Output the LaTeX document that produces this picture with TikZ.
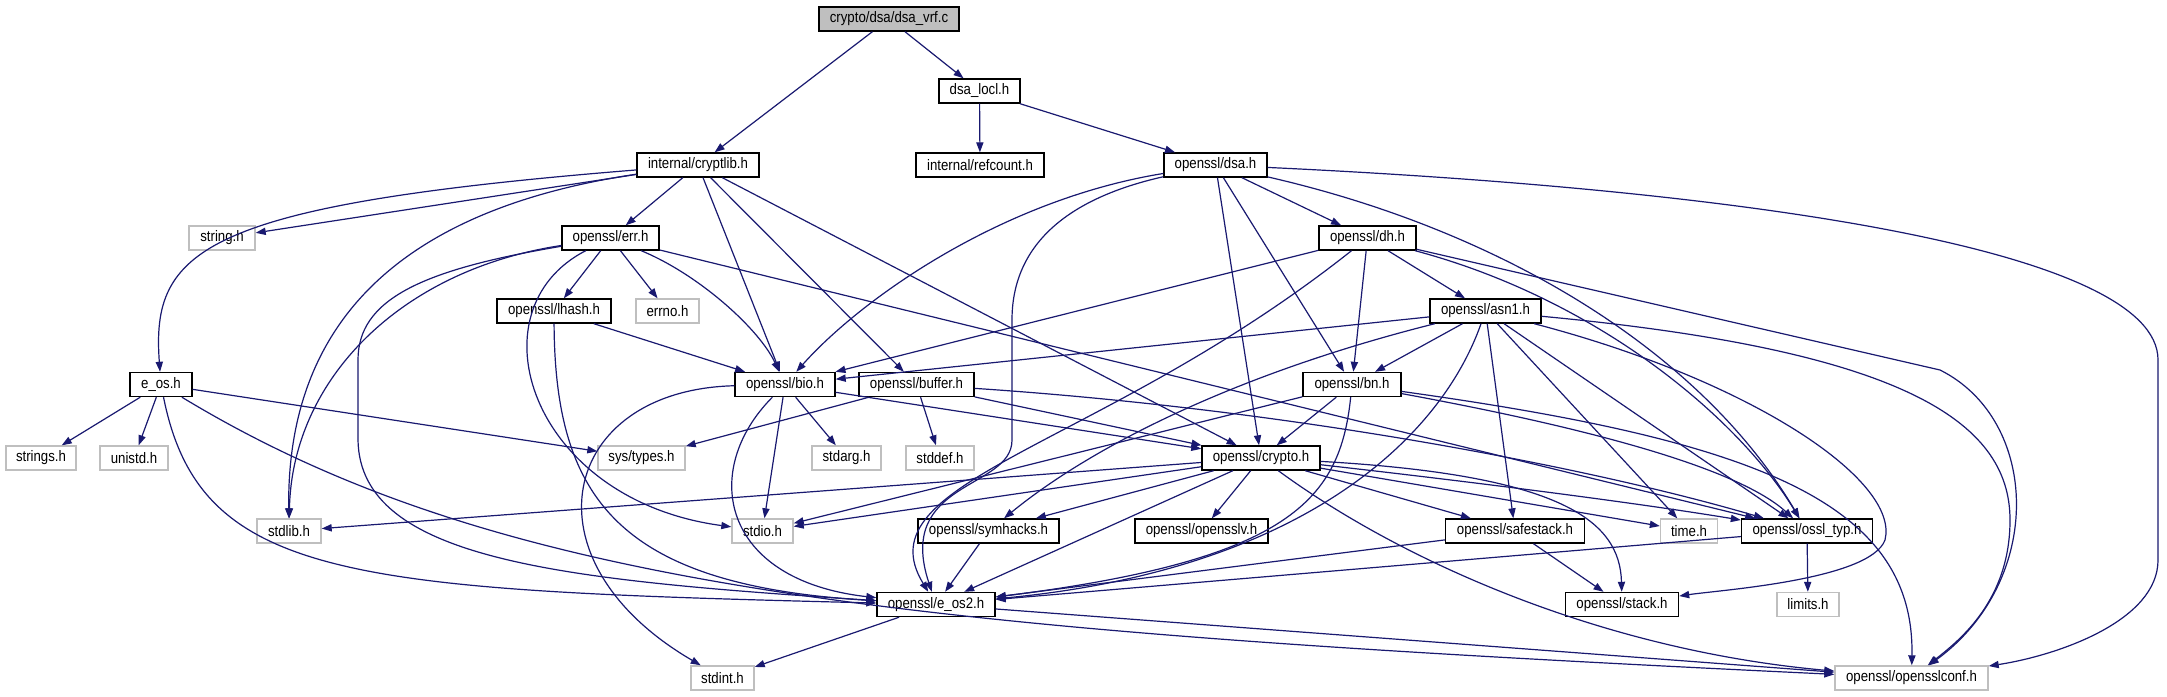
\documentclass[tikz,border=0pt]{standalone}
\usepackage{fontspec}
\setmainfont{Liberation Sans}[FakeStretch=0.87]
\usetikzlibrary{arrows.meta}
\definecolor{edgec}{RGB}{25,25,112}
\definecolor{grayb}{RGB}{191,191,191}
\newcommand\fsz{\fontsize{7.6pt}{9pt}\selectfont}
\tikzset{
 nb/.style={draw=black, line width=0.7pt, fill=white, minimum height=12pt, inner sep=0pt, font=\fsz},
 ng/.style={nb, draw=grayb},
 nroot/.style={nb, fill=grayb},
 e/.style={draw=edgec, line width=0.6pt, -{Triangle[length=5pt,width=3.6pt]}}
}
\begin{document}
\begin{tikzpicture}[x=0.5pt,y=-0.5pt]
\useasboundingbox[fill=white] (0,0) rectangle (2167,696);
% row 0
\node[nroot, minimum width=70pt] (vrf) at (889,19) {crypto/dsa/dsa\_vrf.c};
% row 1
\node[nb, minimum width=40.5pt] (locl) at (979.5,91) {dsa\_locl.h};
% row 2
\node[nb, minimum width=61pt] (cryptlib) at (698,165) {internal/cryptlib.h};
\node[nb, minimum width=64pt] (refcount) at (980,165) {internal/refcount.h};
\node[nb, minimum width=51.5pt] (dsa) at (1215.5,165) {openssl/dsa.h};
% row 3
\node[ng, minimum width=33pt] (string) at (222,238) {string.h};
\node[nb, minimum width=48.5pt] (err) at (610.5,238) {openssl/err.h};
\node[nb, minimum width=48.5pt] (dh) at (1367.5,238) {openssl/dh.h};
% row 4
\node[nb, minimum width=57pt] (lhash) at (554,311) {openssl/lhash.h};
\node[ng, minimum width=31.5pt] (errno) at (667.5,311) {errno.h};
\node[nb, minimum width=55.5pt] (asn1) at (1485.5,311) {openssl/asn1.h};
% row 5
\node[nb, minimum width=31pt] (eos) at (161,384.5) {e\_os.h};
\node[nb, minimum width=50pt] (bio) at (785,384.5) {openssl/bio.h};
\node[nb, minimum width=57.5pt] (buffer) at (916.5,384.5) {openssl/buffer.h};
\node[nb, minimum width=49pt] (bn) at (1352,384.5) {openssl/bn.h};
% row 6
\node[ng, minimum width=35pt] (strings) at (41,458) {strings.h};
\node[ng, minimum width=34pt] (unistd) at (134,458) {unistd.h};
\node[ng, minimum width=43.5pt] (systypes) at (641.5,458) {sys/types.h};
\node[ng, minimum width=34.5pt] (stdarg) at (846.5,458) {stdarg.h};
\node[ng, minimum width=34pt] (stddef) at (940,458) {stddef.h};
\node[nb, minimum width=59pt] (crypto) at (1261,458) {openssl/crypto.h};
% row 7
\node[ng, minimum width=32pt] (stdlib) at (289,531) {stdlib.h};
\node[ng, minimum width=30.5pt] (stdio) at (762.5,531) {stdio.h};
\node[nb, minimum width=70.5pt] (symhacks) at (988.5,531) {openssl/symhacks.h};
\node[nb, minimum width=66.5pt] (opensslv) at (1201.5,531) {openssl/opensslv.h};
\node[nb, minimum width=69.5pt] (safestack) at (1515,531) {openssl/safestack.h};
\node[ng, minimum width=28.5pt] (time) at (1689,531) {time.h};
\node[nb, minimum width=65.5pt] (ossltyp) at (1807,531) {openssl/ossl\_typ.h};
% row 8
\node[nb, minimum width=59pt] (eos2) at (936,604.5) {openssl/e\_os2.h};
\node[nb, minimum width=56.5pt] (stack) at (1622,604.5) {openssl/stack.h};
\node[ng, minimum width=31pt] (limits) at (1808,604.5) {limits.h};
% row 9
\node[ng, minimum width=31.5pt] (stdint) at (722.5,678) {stdint.h};
\node[ng, minimum width=76.5pt] (conf) at (1911.5,678) {openssl/opensslconf.h};

% edges
\draw[e] (vrf) -- (cryptlib);
\draw[e] (vrf) -- (locl);
\draw[e] (locl) -- (refcount);
\draw[e] (locl) -- (dsa);
% cryptlib
\draw[e] (cryptlib) .. controls (200,205) and (151,250) .. (eos);
\draw[e] (cryptlib) -- (string);
\draw[e] (cryptlib) .. controls (430,205) and (286,300) .. (stdlib);
\draw[e] (cryptlib) -- (err);
\draw[e] (cryptlib) -- (bio);
\draw[e] (cryptlib) -- (buffer);
\draw[e] (cryptlib) -- (crypto);
% err
\draw[e] (err) .. controls (400,270) and (292,380) .. (stdlib);
\draw[e] (err) .. controls (420,270) and (358,300) .. (358,360) -- (358,440) .. controls (360,560) and (560,580) .. (eos2);
\draw[e] (err) .. controls (470,310) and (530,500) .. (stdio);
\draw[e] (err) -- (lhash);
\draw[e] (err) -- (errno);
\draw[e] (err) .. controls (700,275) and (760,330) .. (bio);
\draw[e] (err) -- (ossltyp);
% lhash
\draw[e] (lhash) -- (bio);
\draw[e] (lhash) .. controls (555,500) and (620,585) .. (eos2);
% e_os
\draw[e] (eos) -- (strings);
\draw[e] (eos) -- (unistd);
\draw[e] (eos) -- (systypes);
\draw[e] (eos) .. controls (200,580) and (350,590) .. (eos2);
\draw[e] (eos) .. controls (500,590) and (900,630) .. (conf);
% bio
\draw[e] (bio) .. controls (560,390) and (520,560) .. (stdint);
\draw[e] (bio) .. controls (700,470) and (720,580) .. (eos2);
\draw[e] (bio) -- (stdio);
\draw[e] (bio) -- (stdarg);
\draw[e] (bio) -- (crypto);
% buffer
\draw[e] (buffer) -- (systypes);
\draw[e] (buffer) -- (stddef);
\draw[e] (buffer) -- (crypto);
\draw[e] (buffer) .. controls (1300,410) and (1600,470) .. (ossltyp);
% dsa
\draw[e] (dsa) .. controls (1000,200) and (860,300) .. (bio);
\draw[e] (dsa) .. controls (1060,200) and (1012,250) .. (1012,320) -- (1012,440) .. controls (1012,490) and (895,480) .. (eos2);
\draw[e] (dsa) -- (crypto);
\draw[e] (dsa) -- (bn);
\draw[e] (dsa) -- (dh);
\draw[e] (dsa) .. controls (1500,230) and (1700,350) .. (ossltyp);
\draw[e] (dsa) .. controls (1750,190) and (2158,250) .. (2158,360) -- (2158,560) .. controls (2158,620) and (2060,655) .. (conf);
% dh
\draw[e] (dh) -- (bio);
\draw[e] (dh) .. controls (1100,450) and (860,480) .. (eos2);
\draw[e] (dh) -- (bn);
\draw[e] (dh) -- (asn1);
\draw[e] (dh) .. controls (1600,300) and (1740,420) .. (ossltyp);
\draw[e] (dh) -- (1940,370) .. controls (2040,420) and (2045,580) .. (conf);
% asn1
\draw[e] (asn1) -- (bio);
\draw[e] (asn1) .. controls (1250,370) and (1100,440) .. (symhacks);
\draw[e] (asn1) -- (bn);
\draw[e] (asn1) .. controls (1440,440) and (1300,570) .. (eos2);
\draw[e] (asn1) -- (safestack);
\draw[e] (asn1) -- (time);
\draw[e] (asn1) -- (ossltyp);
\draw[e] (asn1) .. controls (1750,380) and (1900,480) .. (1885,540) .. controls (1870,580) and (1720,590) .. (stack);
\draw[e] (asn1) .. controls (1900,350) and (2010,420) .. (2010,520) .. controls (2010,600) and (1960,640) .. (conf);
% bn
\draw[e] (bn) .. controls (1340,500) and (1290,560) .. (eos2);
\draw[e] (bn) -- (stdio);
\draw[e] (bn) -- (crypto);
\draw[e] (bn) .. controls (1600,430) and (1740,470) .. (ossltyp);
\draw[e] (bn) .. controls (1750,440) and (1915,500) .. (conf);
% crypto
\draw[e] (crypto) -- (stdlib);
\draw[e] (crypto) -- (stdio);
\draw[e] (crypto) -- (symhacks);
\draw[e] (crypto) -- (eos2);
\draw[e] (crypto) -- (opensslv);
\draw[e] (crypto) -- (safestack);
\draw[e] (crypto) -- (time);
\draw[e] (crypto) .. controls (1500,485) and (1650,505) .. (ossltyp);
\draw[e] (crypto) .. controls (1560,475) and (1620,520) .. (stack);
\draw[e] (crypto) .. controls (1400,560) and (1600,650) .. (conf);
% others
\draw[e] (symhacks) -- (eos2);
\draw[e] (safestack) -- (stack);
\draw[e] (safestack) -- (eos2);
\draw[e] (ossltyp) -- (eos2);
\draw[e] (ossltyp) -- (limits);
\draw[e] (eos2) -- (stdint);
\draw[e] (eos2) -- (conf);
\end{tikzpicture}
\end{document}
